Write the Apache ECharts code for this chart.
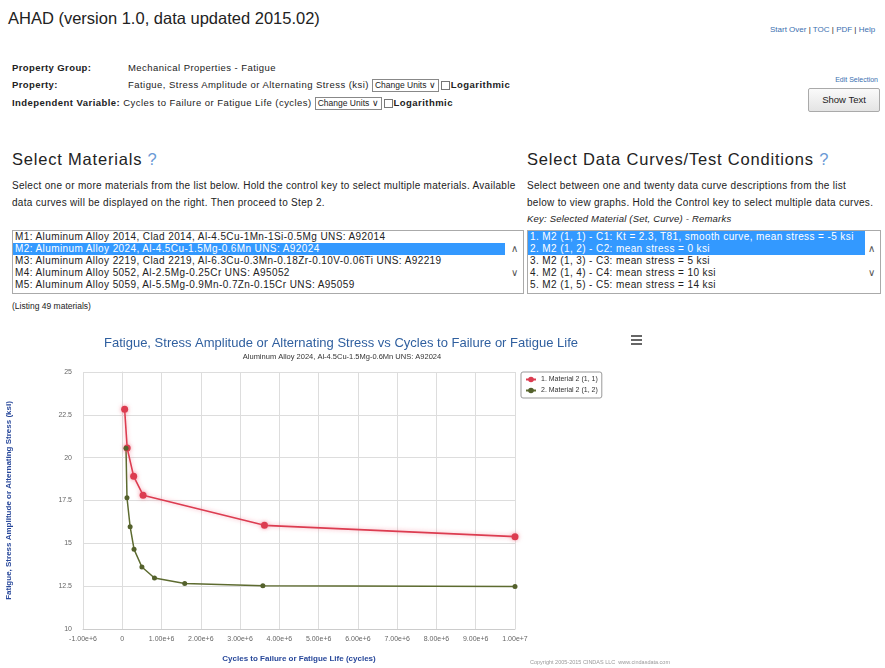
<!DOCTYPE html>
<html>
<head>
<meta charset="utf-8">
<script src="https://cdn.jsdelivr.net/npm/echarts@6/dist/echarts.min.js"></script>
<style>
    body { margin: 0; width: 885px; height: 668px; overflow: hidden; background: #fff;
           font-family: "Liberation Sans", Arial, sans-serif; color: #222; }
    .abs { position: absolute; white-space: nowrap; }
    .lbl { font-size: 9.5px; font-weight: bold; letter-spacing: 0.4px; }
    .val { font-size: 9.5px; letter-spacing: 0.45px; }
    .sel { display: inline-block; border: 1px solid #888; padding: 0 2px; height: 11px; line-height: 11px;
           font-size: 8.5px; letter-spacing: 0; vertical-align: middle; background: #fff; }
    .chk { display: inline-block; width: 7px; height: 7px; border: 1px solid #777; vertical-align: middle; margin: 0 1px 0 2px; }
    .head { font-size: 16.5px; letter-spacing: 0.8px; }
    .q { color: #6b9ad6; }
    .para { font-size: 10px; line-height: 17px; letter-spacing: 0.3px; white-space: normal; }
    .box { position: absolute; border: 1px solid #aaa; background: #fff; overflow: hidden; }
    .row { height: 12px; line-height: 12px; font-size: 10px; letter-spacing: 0.4px; padding-left: 2px; white-space: nowrap; }
    .row.on { background: #3399ff; color: #fff; }
    .arr { position: absolute; font-size: 10px; color: #555; }
    a { color: #3a6fb0; text-decoration: none; }
</style>
</head>
<body>
<div class="abs" style="left:8px;top:8px;font-size:16.5px;line-height:20px;">AHAD (version 1.0, data updated 2015.02)</div>
<div class="abs" style="left:770px;top:25px;font-size:8px;"><a>Start Over</a> | <a>TOC</a> | <a>PDF</a> | <a>Help</a></div>

<div class="abs lbl" style="left:12px;top:62px;line-height:12px;">Property Group:</div>
<div class="abs val" style="left:128px;top:62px;line-height:12px;">Mechanical Properties - Fatigue</div>
<div class="abs lbl" style="left:12px;top:79px;line-height:12px;">Property:</div>
<div class="abs val" style="left:128px;top:79px;line-height:12px;">Fatigue, Stress Amplitude or Alternating Stress (ksi) <span class="sel">Change Units &#8744;</span><span class="chk"></span><b>Logarithmic</b></div>
<div class="abs val" style="left:12px;top:97px;line-height:12px;"><b>Independent Variable:</b> Cycles to Failure or Fatigue Life (cycles) <span class="sel">Change Units &#8744;</span><span class="chk"></span><b>Logarithmic</b></div>

<div class="abs" style="right:7px;top:76px;font-size:7px;"><a>Edit Selection</a></div>
<div class="abs" style="left:808px;top:88px;width:70px;height:22px;border:1px solid #aaa;border-radius:2px;background:linear-gradient(#fafafa,#e4e4e4);font-size:9.5px;line-height:22px;text-align:center;">Show Text</div>

<div class="abs head" style="left:12px;top:150px;">Select Materials <span class="q">?</span></div>
<div class="abs head" style="left:527px;top:150px;">Select Data Curves/Test Conditions <span class="q">?</span></div>

<div class="abs para" style="left:12px;top:177px;width:515px;">Select one or more materials from the list below. Hold the control key to select multiple materials. Available data curves will be displayed on the right. Then proceed to Step 2.</div>
<div class="abs para" style="left:527px;top:177px;width:356px;white-space:nowrap;">Select between one and twenty data curve descriptions from the list<br>below to view graphs. Hold the Control key to select multiple data curves.</div>
<div class="abs" style="left:527px;top:213px;font-size:9.5px;letter-spacing:0.2px;font-style:italic;">Key: Selected Material (Set, Curve) - Remarks</div>

<div class="box" style="left:12px;top:230px;width:510px;height:62px;">
    <div class="row">M1: Aluminum Alloy 2014, Clad 2014, Al-4.5Cu-1Mn-1Si-0.5Mg UNS: A92014</div>
    <div class="row on" style="width:490px;">M2: Aluminum Alloy 2024, Al-4.5Cu-1.5Mg-0.6Mn UNS: A92024</div>
    <div class="row">M3: Aluminum Alloy 2219, Clad 2219, Al-6.3Cu-0.3Mn-0.18Zr-0.10V-0.06Ti UNS: A92219</div>
    <div class="row">M4: Aluminum Alloy 5052, Al-2.5Mg-0.25Cr UNS: A95052</div>
    <div class="row">M5: Aluminum Alloy 5059, Al-5.5Mg-0.9Mn-0.7Zn-0.15Cr UNS: A95059</div>
    <div class="arr" style="left:498px;top:12px;">&#8743;</div>
    <div class="arr" style="left:498px;top:36px;">&#8744;</div>
</div>
<div class="box" style="left:527px;top:230px;width:352px;height:62px;">
    <div class="row on" style="width:335px;">1. M2 (1, 1) - C1: Kt = 2.3, T81, smooth curve, mean stress = -5 ksi</div>
    <div class="row on" style="width:335px;">2. M2 (1, 2) - C2: mean stress = 0 ksi</div>
    <div class="row">3. M2 (1, 3) - C3: mean stress = 5 ksi</div>
    <div class="row">4. M2 (1, 4) - C4: mean stress = 10 ksi</div>
    <div class="row">5. M2 (1, 5) - C5: mean stress = 14 ksi</div>
    <div class="arr" style="left:340px;top:12px;">&#8743;</div>
    <div class="arr" style="left:340px;top:36px;">&#8744;</div>
</div>
<div class="abs" style="left:12px;top:301px;font-size:8.5px;">(Listing 49 materials)</div>

<div id="chart" class="abs" style="left:0;top:320px;width:885px;height:348px;"></div>
<div class="abs" style="left:530px;top:659px;font-size:5.5px;color:#999;">Copyright 2005-2015 CINDAS LLC &nbsp;www.cindasdata.com</div>

<script>
// Material 2 (1, 1): Kt = 2.3, mean stress = -5 ksi
var set1Cycles = [60000, 125000, 290000, 530000, 3620000, 10000000];
var set1Stress = [22.83, 20.56, 18.91, 17.81, 16.05, 15.39];
// Material 2 (1, 2): mean stress = 0 ksi
var set2Cycles = [95000, 120000, 200000, 300000, 500000, 820000, 1590000, 3580000, 10000000];
var set2Stress = [20.55, 17.66, 15.97, 14.65, 13.62, 12.98, 12.66, 12.52, 12.48];
var seriesNames = ['1. Material 2 (1, 1)', '2. Material 2 (1, 2)'];

function pairs(xs, ys) {
    let out = [];
    for (let i = 0; i < xs.length; i++) {
        out.push([xs[i], ys[i]]);
    }
    return out;
}

let chart = echarts.init(document.getElementById('chart'));
let axisBlue = '#27479a';
chart.setOption({
    animation: false,
    title: [{
        text: 'Fatigue, Stress Amplitude or Alternating Stress vs Cycles to Failure or Fatigue Life',
        left: 336, top: 12, textAlign: 'center',
        textStyle: { fontFamily: 'Liberation Sans Narrow, Liberation Sans, sans-serif', fontSize: 13, fontWeight: 'normal', color: '#2f5f9f' }
    }, {
        text: 'Aluminum Alloy 2024, Al-4.5Cu-1.5Mg-0.6Mn UNS: A92024',
        left: 337, top: 28, textAlign: 'center',
        textStyle: { fontFamily: 'Liberation Sans Narrow, Liberation Sans, sans-serif', fontSize: 7.5, fontWeight: 'normal', color: '#333' }
    }],
    legend: {
        orient: 'vertical', left: 521, top: 52,
        borderColor: '#999', borderWidth: 1, borderRadius: 2,
        padding: [4, 4], itemGap: 4, itemWidth: 10, itemHeight: 7,
        textStyle: { fontSize: 7, color: '#333' },
        data: seriesNames
    },
    grid: { left: 83, top: 52, width: 432, height: 257 },
    xAxis: {
        type: 'value', min: -1000000, max: 10000000, interval: 1000000,
        name: 'Cycles to Failure or Fatigue Life (cycles)',
        nameLocation: 'middle', nameGap: 26,
        nameTextStyle: { fontSize: 8, fontWeight: 'bold', color: axisBlue },
        axisLine: { show: true, lineStyle: { color: '#ccc' } },
        axisTick: { show: false },
        axisLabel: {
            fontSize: 7, color: '#666', margin: 7,
            formatter: function (v) { return v === 0 ? '0' : v.toExponential(2); }
        },
        splitLine: { show: true, lineStyle: { color: '#ddd' } }
    },
    yAxis: {
        type: 'value', min: 10, max: 25, interval: 2.5,
        name: 'Fatigue, Stress Amplitude or Alternating Stress (ksi)',
        nameLocation: 'middle', nameRotate: 90, nameGap: 70,
        nameTextStyle: { fontSize: 8, fontWeight: 'bold', color: axisBlue },
        axisLine: { show: true, lineStyle: { color: '#ddd' } },
        axisTick: { show: false },
        axisLabel: { fontSize: 7, color: '#666', margin: 11 },
        splitLine: { show: true, lineStyle: { color: '#ddd' } }
    },
    graphic: [
        { type: 'rect', left: 631, top: 15, shape: { width: 11, height: 2 }, style: { fill: '#666' } },
        { type: 'rect', left: 631, top: 19, shape: { width: 11, height: 2 }, style: { fill: '#666' } },
        { type: 'rect', left: 631, top: 23, shape: { width: 11, height: 2 }, style: { fill: '#666' } }
    ],
    series: [{
        name: seriesNames[0], type: 'line',
        data: pairs(set1Cycles, set1Stress),
        symbol: 'circle', symbolSize: 7,
        itemStyle: { color: '#dc3c50', shadowColor: 'rgba(240,110,130,0.7)', shadowBlur: 4 },
        lineStyle: { width: 1.6, color: '#dc3c50', shadowColor: 'rgba(245,130,150,0.7)', shadowBlur: 4 }
    }, {
        name: seriesNames[1], type: 'line',
        data: pairs(set2Cycles, set2Stress),
        symbol: 'circle', symbolSize: 5,
        itemStyle: { color: '#54612c' },
        lineStyle: { width: 1.5, color: '#5d6b30' }
    }]
});
</script>
</body>
</html>
